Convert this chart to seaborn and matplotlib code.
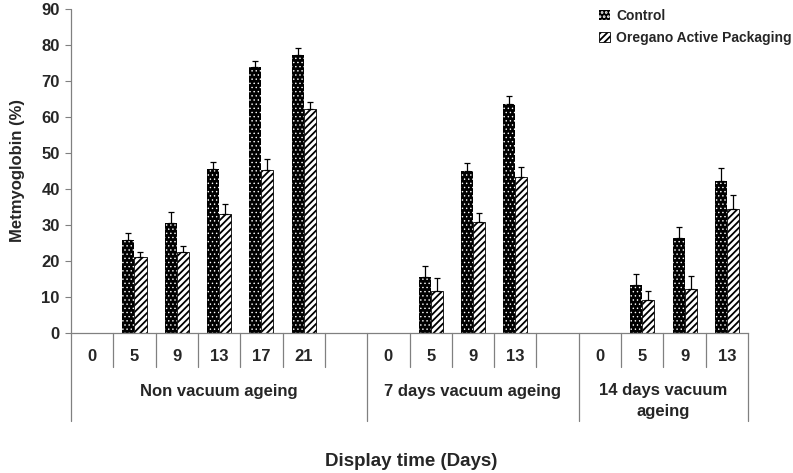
import numpy as np
import pandas as pd
import matplotlib
matplotlib.use("Agg")
import matplotlib.pyplot as plt
import seaborn as sns
from matplotlib.transforms import blended_transform_factory

# x slots (empty "gap" slots separate the ageing groups)
slots = ["nv0", "nv5", "nv9", "nv13", "nv17", "nv21", "gap1",
         "v7_0", "v7_5", "v7_9", "v7_13", "gap2",
         "v14_0", "v14_5", "v14_9", "v14_13"]
day_labels = ["0", "5", "9", "13", "17", "21", "",
              "0", "5", "9", "13", "",
              "0", "5", "9", "13"]
data_slots = [s for s in slots if not s.startswith("gap")]

control = [0, 25.8, 30.5, 45.6, 74.0, 77.1, 0, 15.6, 45.1, 63.6, 0, 13.4, 26.5, 42.2]
control_err = [0, 2.0, 3.2, 2.0, 1.6, 2.0, 0, 3.1, 2.0, 2.2, 0, 3.0, 3.0, 3.6]
oregano = [0, 21.0, 22.4, 33.1, 45.2, 62.1, 0, 11.8, 30.9, 43.4, 0, 9.3, 12.1, 34.5]
oregano_err = [0, 1.6, 1.8, 2.8, 3.2, 2.0, 0, 3.4, 2.5, 2.6, 0, 2.4, 3.8, 3.8]

series = ["Control", "Oregano Active Packaging"]
groups = ["Non vacuum ageing", "7 days vacuum ageing", "14 days vacuum\nageing"]
group_slots = [slots[0:7], slots[7:12], slots[12:16]]

df = pd.DataFrame({
    "slot": data_slots * 2,
    "value": control + oregano,
    "err": control_err + oregano_err,
    "series": [series[0]] * len(data_slots) + [series[1]] * len(data_slots),
})

sns.set_theme(style="white")
plt.rcParams["font.family"] = ["Liberation Sans", "DejaVu Sans"]
plt.rcParams["font.weight"] = "bold"
plt.rcParams["hatch.linewidth"] = 1.3

fig = plt.figure(figsize=(7.93, 4.73), dpi=100)
ax = fig.add_axes([0.0895, 0.296, 0.8538, 0.685])

sns.barplot(data=df, x="slot", y="value", hue="series", order=slots,
            hue_order=series, width=0.57, gap=0, errorbar=None, ax=ax)

# patterns: black bars with white dots, white bars with black diagonals
for bar in ax.containers[0]:
    bar.set_facecolor("black")
    bar.set_edgecolor("white")
    bar.set_linewidth(0)
    bar.set_hatch("....")
    if hasattr(bar, "set_hatch_linewidth"):
        bar.set_hatch_linewidth(0.5)
for bar in ax.containers[1]:
    bar.set_facecolor("white")
    bar.set_edgecolor("black")
    bar.set_linewidth(0.6)
    bar.set_hatch("/////")

# upper error bars
for cont, name in zip(ax.containers, series):
    sub = df[df["series"] == name]
    for bar, v, e in zip(cont, sub["value"], sub["err"]):
        if e > 0:
            ax.errorbar(bar.get_x() + bar.get_width() / 2, v, yerr=[[0], [e]],
                        fmt="none", ecolor="black", elinewidth=0.9, capsize=2.5,
                        capthick=0.9)

ax.set_ylim(0, 90)
ax.set_xlim(-0.5, len(slots) - 0.5)
ax.set_yticks(range(0, 91, 10))
ax.tick_params(axis="y", labelsize=12, length=4, width=0.8, color="#808080",
               direction="out", left=True, pad=4)
ax.set_xticks([])
ax.set_xlabel("")
ax.set_ylabel("Metmyoglobin (%)", fontsize=12, fontweight="bold", labelpad=12)
for s in ["top", "right", "left"]:
    ax.spines[s].set_visible(False)
ax.spines["bottom"].set_color("#808080")
ax.spines["bottom"].set_linewidth(0.9)

# category table under the x axis
tr = blended_transform_factory(ax.transData, ax.transAxes)
line_kw = dict(color="#808080", lw=0.9, transform=tr, clip_on=False)
ax.plot([-0.5, -0.5], [1.0, -0.272], **line_kw)
pos = 0
for name, gs in zip(groups, group_slots):
    start = pos
    for i in range(len(gs)):
        label = day_labels[pos]
        if label:
            ax.text(pos, -0.074, label, transform=tr, ha="center", va="center",
                    fontsize=12, fontweight="bold")
        pos += 1
        if i < len(gs) - 1:
            ax.plot([pos - 0.5, pos - 0.5], [0, -0.105], **line_kw)
    ax.plot([pos - 0.5, pos - 0.5], [0, -0.272], **line_kw)
    center = (start + pos - 1) / 2
    two_lines = "\n" in name
    ax.text(center, -0.155 if two_lines else -0.18, name, transform=tr,
            ha="center", va="top" if two_lines else "center",
            fontsize=12, fontweight="bold", linespacing=1.45)

fig.text(0.518, 0.025, "Display time (Days)", ha="center", va="center",
         fontsize=13.5, fontweight="bold")

ax.legend([ax.containers[0][1], ax.containers[1][1]], series,
          loc="upper right", bbox_to_anchor=(1.083, 1.04), frameon=False,
          handlelength=0.75, handleheight=0.75, handletextpad=0.45,
          labelspacing=0.6, prop={"weight": "bold", "size": 10})

fig.savefig("out.png", dpi=100)
